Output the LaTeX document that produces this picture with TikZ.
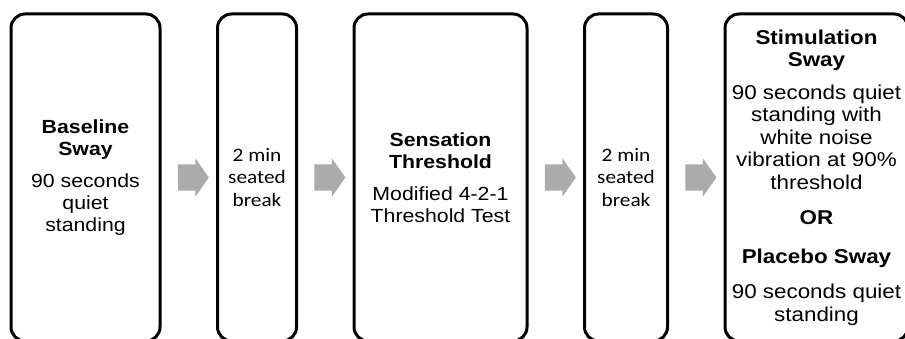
\documentclass[tikz,border=0pt]{standalone}
\usepackage{fontspec}
\setmainfont{Liberation Sans}[FakeStretch=1.12]
\newfontfamily\breakfont{Carlito}[FakeStretch=1.12]
\usetikzlibrary{positioning,shapes.arrows}

\begin{document}
\begin{tikzpicture}[x=1pt,y=1pt,
% Stage style
    stage/.style={rectangle,rounded corners=14pt,line width=3pt,draw,
		fill=white,outer sep=0pt,minimum height=327pt,align=center,
		font=\fontsize{19}{22}\selectfont},
    pause/.style={stage,font=\breakfont\fontsize{19}{22.5}\selectfont},
% Block arrow style
    flow/.style={single arrow,fill=black!33,draw=none,inner xsep=0pt,
		inner ysep=13pt,minimum height=31pt,
		single arrow head extend=6pt,single arrow tip angle=110},
    node distance=57.5pt
    ]
   \useasboundingbox (0,0) rectangle (905,338);
   \clip (0,0) rectangle (905,338);
%%% Draw the session stages
   \node [stage, minimum width=149pt] (base) at (85.5,160.5)
      {\textbf{Baseline}\\\textbf{Sway}\\[10pt]90 seconds\\quiet\\standing};
   \node [pause, minimum width=79pt] [right=of base] (rest1)
      {2 min\\seated\\break};
   \node [stage, minimum width=173pt] [right=of rest1] (sens)
      {\textbf{Sensation}\\\textbf{Threshold}\\[10pt]Modified 4-2-1\\Threshold Test};
   \node [pause, minimum width=83pt] [right=of sens] (rest2)
      {2 min\\seated\\break};
   \node [stage, minimum width=183pt, inner sep=1pt,
          font=\fontsize{20}{22.5}\selectfont] [right=of rest2] (stim)
      {\textbf{Stimulation}\\\textbf{Sway}\\[10pt]90 seconds quiet\\standing with\\
       white noise\\vibration at 90\%\\threshold\\[13pt]\textbf{OR}\\[16pt]
       \textbf{Placebo Sway}\\[13pt]90 seconds quiet\\standing};

%%% Arrows between the stages
   \path (base) -- (rest1) node [pos=1/2, flow] (a1) {};
   \path (rest1) -- (sens) node [pos=1/2, flow] (a2) {};
   \path (sens) -- (rest2) node [pos=1/2, flow] (a3) {};
   \path (rest2) -- (stim) node [pos=1/2, flow] (a4) {};
\end{tikzpicture}
\end{document}
